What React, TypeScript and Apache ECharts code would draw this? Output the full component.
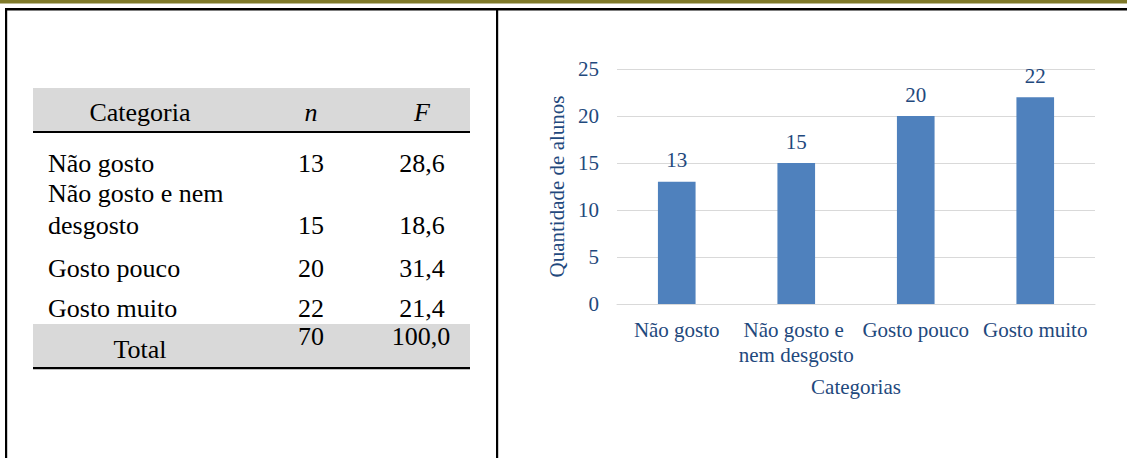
import React, { useEffect, useRef } from "react";
import * as echarts from "echarts";

// Frequency table
const tableHeaders = ["Categoria", "n", "F"];
const tableCategories = ["Não gosto", "Não gosto e nem\ndesgosto", "Gosto pouco", "Gosto muito"];
const tableN = ["13", "15", "20", "22"];
const tableF = ["28,6", "18,6", "31,4", "21,4"];
const totalRow = ["Total", "70", "100,0"];

// Bar chart
const categories = ["Não gosto", "Não gosto e nem desgosto", "Gosto pouco", "Gosto muito"];
const counts = [13, 15, 20, 22];
const yTicks = { min: 0, max: 25, interval: 5 };

const SERIF = "'Liberation Serif', 'Times New Roman', serif";
const BLUE_TEXT = "#1F497D";

export default function App() {
  const ref = useRef<HTMLDivElement>(null);

  useEffect(() => {
    document.body.style.margin = "0";
    if (!ref.current) return;
    const chart = echarts.init(ref.current, null, { renderer: "svg" });

    const rowCenters = [163, 225, 268, 308.5];
    const rowLabelTop = [163, 193, 268, 308.5];
    const tf = {
      font: "26px 'Liberation Serif', 'Times New Roman', serif",
      fontFamily: SERIF, fontSize: 26, lineHeight: 24, fill: "#000",
    };
    const tfItalic = {
      ...tf,
      font: "italic 26px 'Liberation Serif', 'Times New Roman', serif",
      fontStyle: "italic",
    };

    const graphics: any[] = [
      // frame
      { type: "rect", shape: { x: 0, y: 0, width: 1127, height: 3.5 }, style: { fill: "#7F7A2A" } },
      { type: "rect", shape: { x: 5, y: 8, width: 1122, height: 2.5 }, style: { fill: "#000" } },
      { type: "rect", shape: { x: 5, y: 8, width: 2.2, height: 450 }, style: { fill: "#000" } },
      { type: "rect", shape: { x: 496, y: 8, width: 2.2, height: 450 }, style: { fill: "#000" } },
      // table header band and rules
      { type: "rect", shape: { x: 33, y: 88, width: 437, height: 43 }, style: { fill: "#D9D9D9" } },
      { type: "rect", shape: { x: 33, y: 131, width: 437, height: 2 }, style: { fill: "#000" } },
      { type: "rect", shape: { x: 33, y: 324, width: 437, height: 43 }, style: { fill: "#D9D9D9" } },
      { type: "rect", shape: { x: 33, y: 367, width: 437, height: 2.2 }, style: { fill: "#000" } },
      { type: "text", x: 140, y: 112, style: { ...tf, text: tableHeaders[0], textAlign: "center", textVerticalAlign: "middle" } },
      { type: "text", x: 311, y: 112, style: { ...tfItalic, text: tableHeaders[1], textAlign: "center", textVerticalAlign: "middle" } },
      { type: "text", x: 422, y: 112, style: { ...tfItalic, text: tableHeaders[2], textAlign: "center", textVerticalAlign: "middle" } },
    ];

    tableCategories.forEach((c, i) => {
      c.split("\n").forEach((line, j) => {
        graphics.push({
          type: "text", x: 48, y: rowLabelTop[i] + j * 32,
          style: { ...tf, text: line, textAlign: "left", textVerticalAlign: "middle" },
        });
      });
      graphics.push({ type: "text", x: 311, y: rowCenters[i], style: { ...tf, text: tableN[i], textAlign: "center", textVerticalAlign: "middle" } });
      graphics.push({ type: "text", x: 422, y: rowCenters[i], style: { ...tf, text: tableF[i], textAlign: "center", textVerticalAlign: "middle" } });
    });

    graphics.push({ type: "text", x: 140, y: 349, style: { ...tf, text: totalRow[0], textAlign: "center", textVerticalAlign: "middle" } });
    graphics.push({ type: "text", x: 311, y: 336, style: { ...tf, text: totalRow[1], textAlign: "center", textVerticalAlign: "middle" } });
    graphics.push({ type: "text", x: 421, y: 336, style: { ...tf, text: totalRow[2], textAlign: "center", textVerticalAlign: "middle" } });

    chart.setOption({
      animation: false,
      textStyle: { fontFamily: SERIF },
      graphic: graphics,
      grid: { left: 617, right: 32, top: 69, bottom: 154, containLabel: false },
      xAxis: {
        type: "category",
        data: categories,
        axisLine: { show: true, lineStyle: { color: "#D9D9D9", width: 1 } },
        axisTick: { show: false },
        axisLabel: {
          interval: 0, margin: 13, color: BLUE_TEXT, fontFamily: SERIF, fontSize: 21,
          lineHeight: 25, width: 119, overflow: "break",
        },
        name: "Categorias",
        nameLocation: "middle",
        nameGap: 72,
        nameTextStyle: { color: BLUE_TEXT, fontFamily: SERIF, fontSize: 21 },
      },
      yAxis: {
        type: "value",
        min: yTicks.min, max: yTicks.max, interval: yTicks.interval,
        axisLine: { show: false },
        axisTick: { show: false },
        splitLine: { lineStyle: { color: "#D9D9D9", width: 1 } },
        axisLabel: { margin: 18, color: BLUE_TEXT, fontFamily: SERIF, fontSize: 21 },
        name: "Quantidade de alunos",
        nameLocation: "middle",
        nameGap: 50,
        nameTextStyle: { color: BLUE_TEXT, fontFamily: SERIF, fontSize: 21 },
      },
      series: [
        {
          type: "bar",
          data: counts,
          barWidth: "31.5%",
          itemStyle: { color: "#4F81BD" },
          label: {
            show: true, position: "top", distance: 11,
            color: BLUE_TEXT, fontFamily: SERIF, fontSize: 21,
          },
        },
      ],
    });

    return () => chart.dispose();
  }, []);

  return <div ref={ref} style={{ width: 1127, height: 458 }} />;
}
